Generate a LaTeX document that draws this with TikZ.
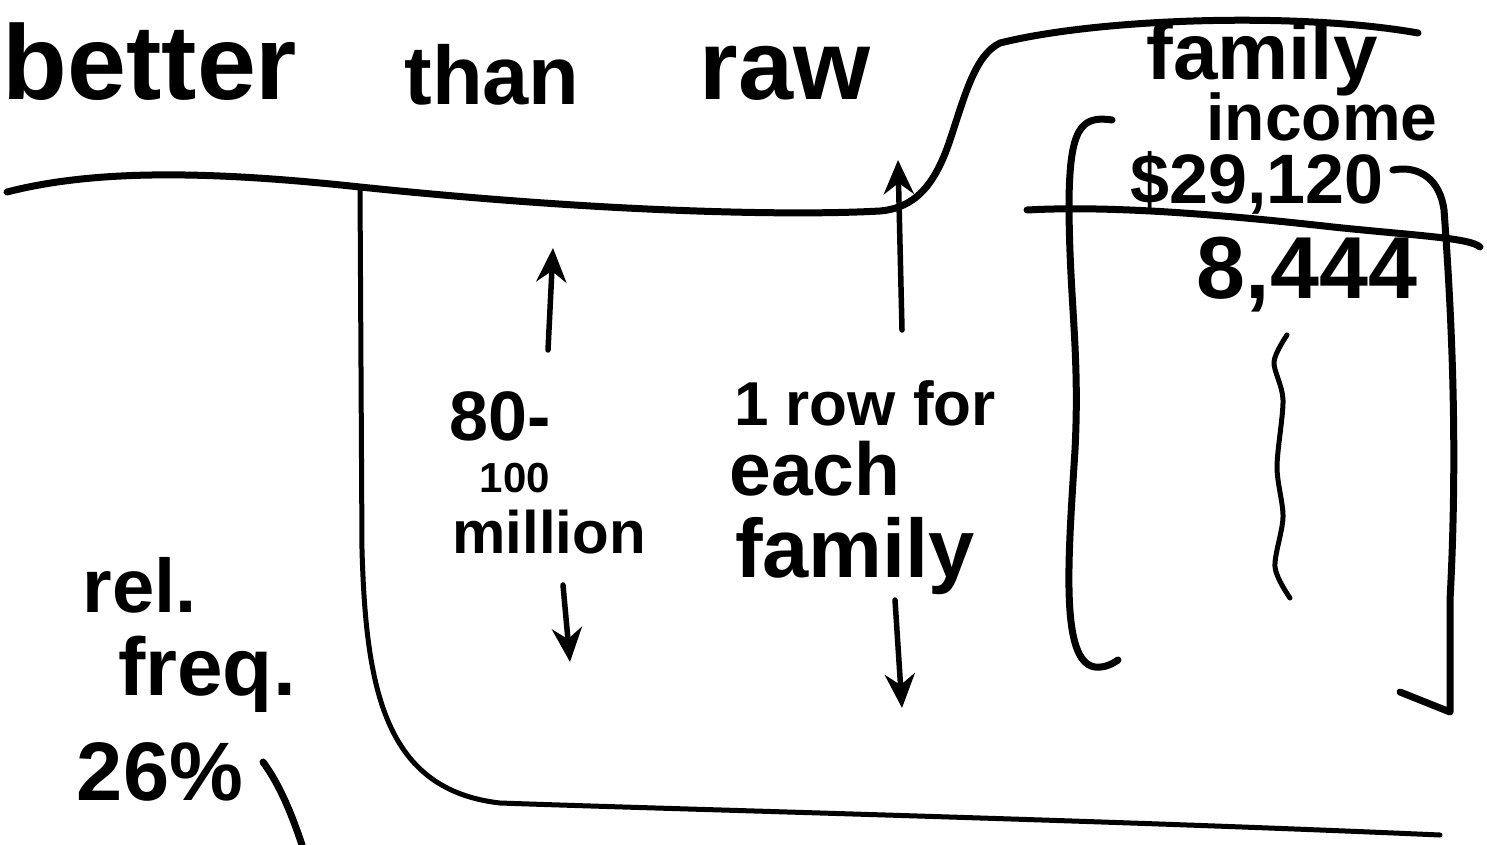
\documentclass[tikz,border=0pt]{standalone}
\usepackage{fontspec}
\setmainfont{Liberation Sans}
\usetikzlibrary{arrows.meta}
\tikzset{
  hand/.style={line width=7pt, line cap=round, line join=round},
  thin hand/.style={line width=5pt, line cap=round, line join=round},
  harrow/.style={line width=5.5pt, line cap=round, -{Stealth[length=34pt,width=30pt,inset=11pt]}},
  txt/.style={anchor=base, inner sep=0pt, font=\bfseries},
}
\newcommand{\fs}[1]{\fontsize{#1}{#1}\selectfont}
\begin{document}
\begin{tikzpicture}[x=1pt,y=-1pt]
\useasboundingbox (0,0) rectangle (1487,845);
\clip (0,0) rectangle (1487,845);
% title
\node[txt] (tBetter) at (150,100) {\fs{106}better};
\node[txt] (tThan) at (492,105) {\fs{83}than};
\node[txt] (tRaw) at (785,100) {\fs{99}raw};
% top line and tab
\draw[hand] (7,192) .. controls (100,168) and (220,172) .. (360,187)
  .. controls (600,212) and (790,216) .. (880,211)
  .. controls (915,208) and (935,185) .. (950,140)
  .. controls (965,95) and (975,55) .. (1000,43)
  .. controls (1100,18) and (1300,12) .. (1418,33);
% frame: left side and bottom
\draw[thin hand] (360,187) -- (362,550) .. controls (366,690) and (385,790) .. (500,803)
  .. controls (700,810) and (1100,820) .. (1440,835);
% labels in frame
\node[txt] (t80) at (500,440) {\fs{70}80-};
\node[txt] (t100) at (515,492) {\fs{42}100};
\node[txt] (tMillion) at (549,553) {\fs{60}million};
\node[txt] (tRow) at (865,425) {\fs{62}1 row for};
\node[txt] (tEach) at (815,495) {\fs{75}each};
\node[txt] (tFamily) at (855,577) {\fs{83}family};
% arrows
\coordinate (a1s) at (548,350); \coordinate (a1e) at (553,248);
\coordinate (a2s) at (563,585); \coordinate (a2e) at (570,662);
\coordinate (a3s) at (902,330); \coordinate (a3e) at (898,160);
\coordinate (a4s) at (895,600); \coordinate (a4e) at (902,708);
\draw[harrow] (a1s) -- (a1e);
\draw[harrow] (a2s) -- (a2e);
\draw[harrow] (a3s) -- (a3e);
\draw[harrow] (a4s) -- (a4e);
% right table
\node[txt] (tFamInc) at (1262,80) {\fs{80}family};
\node[txt] (tIncome) at (1322,141) {\fs{66}income};
\node[txt] (tV1) at (1257,204) {\fs{70}\$29,120};
\node[txt] (tV2) at (1307,298) {\fs{88}8,444};
\draw[hand] (1112,120) .. controls (1080,115) and (1070,130) .. (1069,200)
  .. controls (1069,300) and (1080,350) .. (1075,450)
  .. controls (1068,560) and (1060,662) .. (1095,667)
  .. controls (1105,668) and (1112,664) .. (1118,660);
\draw[hand] (1393,170) .. controls (1420,165) and (1440,180) .. (1444,210)
  .. controls (1452,320) and (1458,450) .. (1450,600) -- (1450,712) -- (1400,692);
\draw[hand] (1027,210) .. controls (1100,206) and (1200,212) .. (1333,227)
  .. controls (1420,236) and (1470,238) .. (1480,247);
\draw[thin hand] plot[smooth] coordinates {(1287,335) (1274,362) (1283,400) (1277,467) (1283,517) (1275,567) (1290,598)};
% rel. freq.
\node[txt] (tRel) at (140,612) {\fs{76}rel.};
\node[txt] (tFreq) at (207,695) {\fs{82}freq.};
\node[txt] (tPct) at (160,800) {\fs{83}26\%};
\draw[hand] (263,762) .. controls (280,785) and (292,815) .. (302,845);
\end{tikzpicture}
\end{document}
